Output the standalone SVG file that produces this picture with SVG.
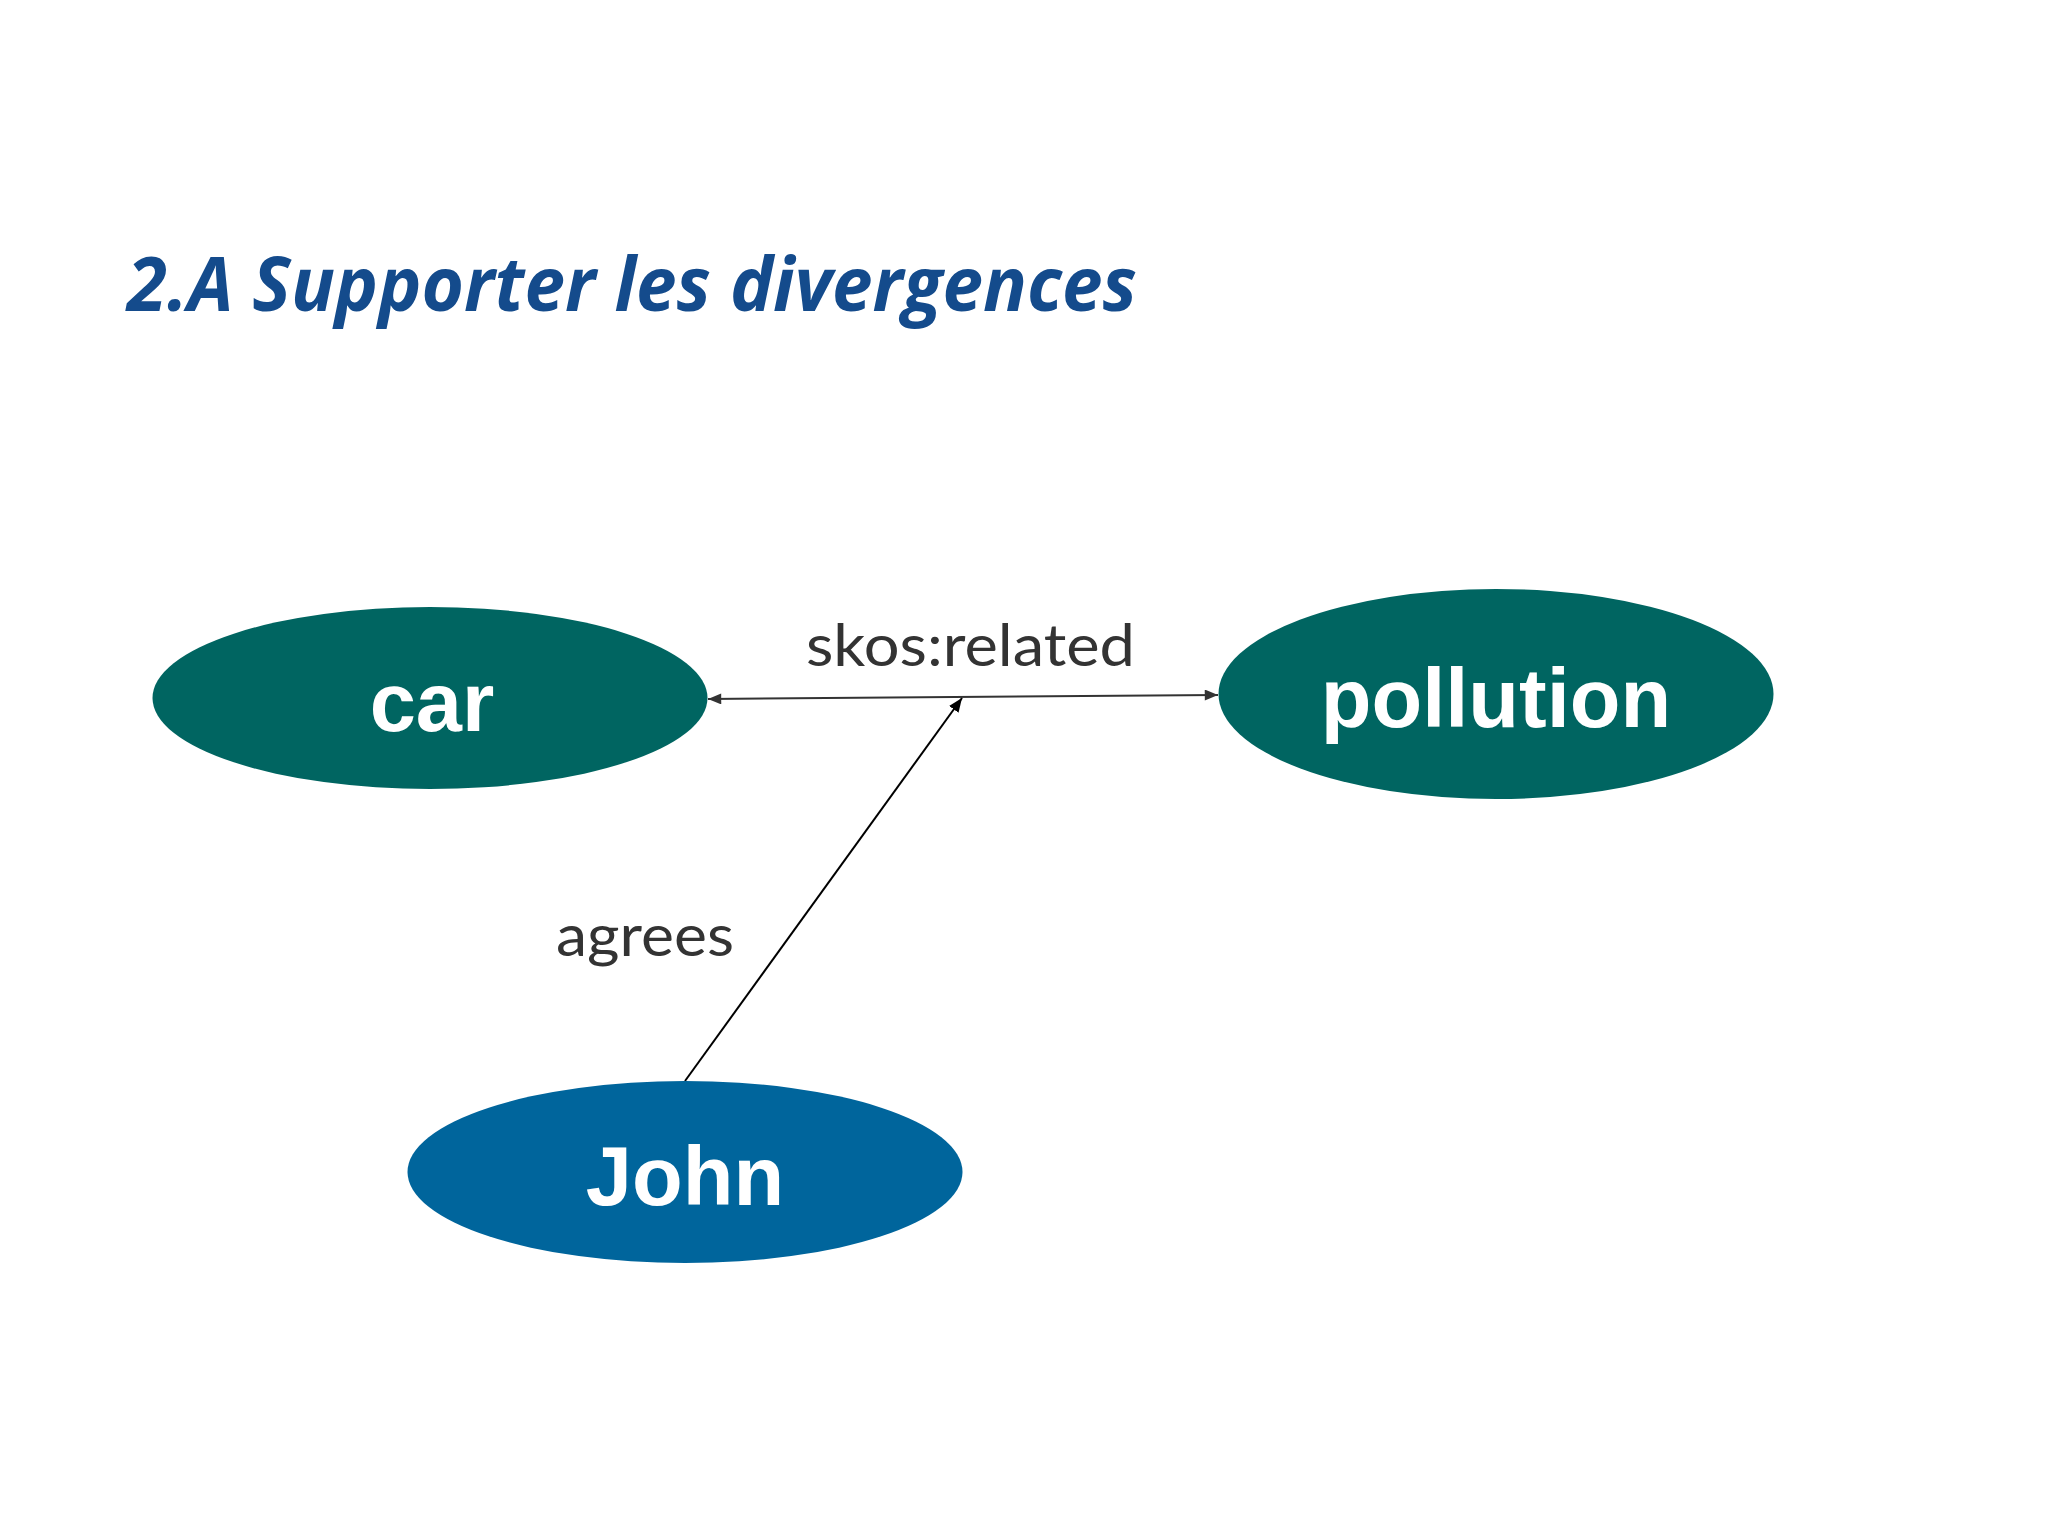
<svg xmlns="http://www.w3.org/2000/svg" width="2048" height="1535" viewBox="0 0 2048 1535">
<style>
.node-text{font-family:"Liberation Sans",Arial,sans-serif;font-weight:bold;font-size:83px;fill:#ffffff;text-anchor:middle}
.edge-label{font-family:Lato,"Open Sans",sans-serif;font-size:59px;fill:#333333}
.edge{stroke:#333333;stroke-width:2;fill:none}
</style>
<defs>
<marker id="arrow" viewBox="0 0 12 10" refX="12" refY="5" markerWidth="14" markerHeight="11" markerUnits="userSpaceOnUse" orient="auto-start-reverse">
<path d="M0,0 L12,5 L0,10 z" fill="#333333"/>
</marker>
<marker id="arrowk" viewBox="0 0 12 10" refX="12" refY="5" markerWidth="14" markerHeight="12" markerUnits="userSpaceOnUse" orient="auto">
<path d="M0,0 L12,5 L0,10 z" fill="#000000"/>
</marker>
</defs>
<rect width="2048" height="1535" fill="#ffffff"/>
<text x="127" y="311" font-family="'Open Sans',sans-serif" font-weight="bold" font-style="italic" font-size="75" fill="#144b8c" textLength="1010" lengthAdjust="spacingAndGlyphs">2.A Supporter les divergences</text>
<g id="connectors">
<line class="edge" x1="708" y1="699" x2="1218" y2="695" marker-start="url(#arrow)" marker-end="url(#arrow)"/>
<line class="edge" x1="685" y1="1081" x2="962" y2="698" marker-end="url(#arrowk)" style="stroke:#000000"/>
<text class="edge-label" x="806" y="666" textLength="329" lengthAdjust="spacingAndGlyphs">skos:related</text>
<text class="edge-label" x="556" y="956" textLength="178" lengthAdjust="spacingAndGlyphs">agrees</text>
</g>
<g id="node-car">
<ellipse cx="430" cy="698" rx="277.5" ry="91" fill="#006561"/>
<text class="node-text" x="432" y="731">car</text>
</g>
<g id="node-pollution">
<ellipse cx="1496" cy="694" rx="277.5" ry="105" fill="#006561"/>
<text class="node-text" x="1496" y="727">pollution</text>
</g>
<g id="node-john">
<ellipse cx="685" cy="1172" rx="277.5" ry="91" fill="#00659c"/>
<text class="node-text" x="685" y="1205">John</text>
</g>
</svg>
